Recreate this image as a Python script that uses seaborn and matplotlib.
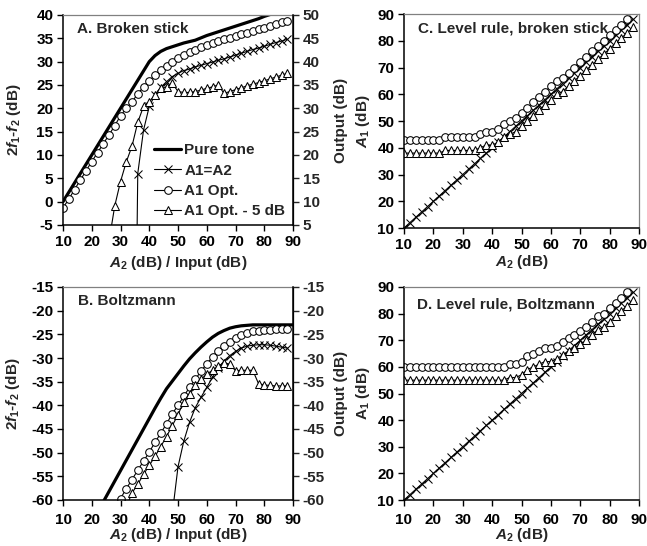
import numpy as np
import pandas as pd
import matplotlib
matplotlib.use("Agg")
import matplotlib.pyplot as plt
import seaborn as sns

# ---------------- data ----------------
# Panel A: broken-stick nonlinearity, 2f1-f2 level vs A2
a_pure_x = [10, 12, 14, 16, 18, 20, 22, 24, 26, 28, 30, 32, 34, 36, 38, 40, 42, 44, 46, 48,
            50, 52, 54, 56, 58, 60, 62, 64, 66, 68, 70, 72, 74, 76, 78, 80, 82, 84, 86, 88, 90]
a_pure_y = [0, 2, 4, 6, 8, 10, 12, 14, 16, 18, 20, 22, 24, 26, 28, 30, 31.3, 32.2, 32.8, 33.2,
            33.6, 34.0, 34.3, 34.6, 35.1, 35.6, 36.0, 36.4, 36.8, 37.2, 37.6, 38.0, 38.4, 38.8,
            39.2, 39.7, 40.1, 40.5, 40.9, 41.3, 41.7]

a_eq_x = [34, 36, 38, 40, 42, 44, 46, 48, 50, 52, 54, 56, 58, 60, 62, 64, 66, 68, 70, 72,
          74, 76, 78, 80, 82, 84, 86, 88]
a_eq_y = [-100, 6.0, 15.3, 20.4, 22.9, 24.5, 25.7, 26.8, 27.5, 28.1, 28.4, 28.9, 29.2, 29.6,
          29.9, 30.3, 30.6, 31.0, 31.4, 31.8, 32.2, 32.6, 32.9, 33.3, 33.7, 34.1, 34.4, 34.8]

a_opt_x = [10, 12, 14, 16, 18, 20, 22, 24, 26, 28, 30, 32, 34, 36, 38, 40, 42, 44, 46, 48,
           50, 52, 54, 56, 58, 60, 62, 64, 66, 68, 70, 72, 74, 76, 78, 80, 82, 84, 86, 88]
a_opt_y = [-1.3, 0.5, 2.6, 4.6, 6.6, 8.6, 10.5, 12.4, 14.3, 16.3, 18.4, 20.0, 21.4, 23.1,
           24.6, 25.9, 27.1, 28.2, 29.1, 30.0, 30.7, 31.4, 32.0, 32.6, 33.1, 33.6, 34.0, 34.4,
           34.8, 35.1, 35.5, 35.9, 36.2, 36.6, 37.0, 37.3, 37.7, 38.1, 38.4, 38.8]

a_m5_x = [26, 28, 30, 32, 34, 36, 38, 40, 42, 44, 46, 48, 50, 52, 54, 56, 58, 60, 62, 64,
          66, 68, 70, 72, 74, 76, 78, 80, 82, 84, 86, 88]
a_m5_y = [-8.5, -0.9, 4.3, 8.5, 11.9, 17.0, 20.4, 21.4, 22.9, 24.3, 24.6, 25.4, 23.6, 23.4,
          23.4, 23.6, 23.9, 24.3, 24.6, 25.0, 23.2, 23.6, 24.0, 24.4, 24.8, 25.2, 25.5, 25.9,
          26.3, 26.7, 27.1, 27.5]

# Panel B: Boltzmann nonlinearity
b_pure_x = [10, 12, 14, 16, 18, 20, 22, 24, 26, 28, 30, 32, 34, 36, 38, 40, 42, 44, 46, 48,
            50, 52, 54, 56, 58, 60, 62, 64, 66, 68, 70, 72, 74, 76, 78, 80, 82, 84, 86, 88, 90]
b_pure_y = [-76.5, -74.2, -71.9, -69.6, -67.3, -65.0, -62.7, -60.4, -58.2, -56.0, -53.8,
            -51.6, -49.4, -47.2, -45.0, -42.8, -40.6, -38.5, -36.5, -34.9, -33.3, -31.7,
            -30.2, -28.9, -27.7, -26.6, -25.6, -24.8, -24.2, -23.7, -23.4, -23.2, -23.1,
            -23.0, -23.0, -23.0, -23.0, -23.0, -23.0, -23.0, -23.0]

b_eq_x = [48, 50, 52, 54, 56, 58, 60, 62, 64, 66, 68, 70, 72, 74, 76, 78, 80, 82, 84, 86, 88]
b_eq_y = [-63.0, -53.0, -47.6, -43.6, -40.5, -38.3, -36.2, -34.1, -32.2, -30.6, -29.5, -28.6,
          -27.9, -27.5, -27.3, -27.2, -27.2, -27.3, -27.5, -27.7, -27.9]

b_opt_x = [28, 30, 32, 34, 36, 38, 40, 42, 44, 46, 48, 50, 52, 54, 56, 58, 60, 62, 64, 66,
           68, 70, 72, 74, 76, 78, 80, 82, 84, 86, 88]
b_opt_y = [-62.5, -59.7, -57.6, -55.7, -53.7, -51.8, -49.9, -47.8, -45.9, -43.9, -41.8, -40.0,
           -38.1, -36.2, -34.5, -32.8, -31.2, -29.8, -28.5, -27.5, -26.6, -25.8, -25.1, -24.7,
           -24.4, -24.2, -24.1, -24.0, -23.9, -23.9, -23.8]

b_m5_x = [32, 34, 36, 38, 40, 42, 44, 46, 48, 50, 52, 54, 56, 58, 60, 62, 64, 66, 68, 70,
          72, 74, 76, 78, 80, 82, 84, 86, 88]
b_m5_y = [-61.5, -58.5, -56.7, -54.6, -52.7, -50.8, -48.7, -46.6, -44.3, -42.0, -39.2, -37.5,
          -35.7, -34.5, -33.4, -32.6, -31.7, -31.0, -31.3, -32.7, -32.6, -32.6, -32.6, -35.4,
          -35.7, -35.8, -35.9, -35.9, -35.9]

# Panels C and D: A1 level chosen by each rule vs A2
cd_x = [10, 12, 14, 16, 18, 20, 22, 24, 26, 28, 30, 32, 34, 36, 38, 40, 42, 44, 46, 48,
        50, 52, 54, 56, 58, 60, 62, 64, 66, 68, 70, 72, 74, 76, 78, 80, 82, 84, 86, 88]
cd_eq_y = [10, 12, 14, 16, 18, 20, 22, 24, 26, 28, 30, 32, 34, 36, 38, 40, 42, 44, 46, 48,
           50, 52, 54, 56, 58, 60, 62, 64, 66, 68, 70, 72, 74, 76, 78, 80, 82, 84, 86, 88]

c_opt_x = [10, 12, 14, 16, 18, 20, 22, 24, 26, 28, 30, 32, 34, 36, 38, 40, 42, 44, 46, 48,
           50, 52, 54, 56, 58, 60, 62, 64, 66, 68, 70, 72, 74, 76, 78, 80, 82, 84, 86]
c_opt_y = [43, 43, 43, 43, 43, 43, 43, 44, 44, 44, 44, 44, 44, 45, 46, 46, 47, 49, 50, 51,
           53, 55, 57, 59, 61, 63, 65, 66, 68, 70, 72, 74, 76, 78, 80, 82, 84, 86, 88]
c_m5_y = [38, 38, 38, 38, 38, 38, 38, 39, 39, 39, 39, 39, 39, 40, 41, 41, 42, 44, 45, 46,
          48, 50, 52, 54, 56, 58, 60, 61, 63, 65, 67, 69, 71, 73, 75, 77, 79, 81, 83, 85]

d_opt_x = [10, 12, 14, 16, 18, 20, 22, 24, 26, 28, 30, 32, 34, 36, 38, 40, 42, 44, 46, 48,
           50, 52, 54, 56, 58, 60, 62, 64, 66, 68, 70, 72, 74, 76, 78, 80, 82, 84, 86]
d_opt_y = [60, 60, 60, 60, 60, 60, 60, 60, 60, 60, 60, 60, 60, 60, 60, 60, 60, 60, 61, 61,
           62, 64, 65, 66, 67, 67, 68, 69.5, 71, 72, 73.5, 75, 77, 79, 80, 82, 84, 86, 88]
d_m5_y = [55, 55, 55, 55, 55, 55, 55, 55, 55, 55, 55, 55, 55, 55, 55, 55, 55, 55, 56, 56,
          57, 59, 60, 61, 62, 62, 63, 64.5, 66, 67, 68.5, 70, 72, 74, 75, 77, 79, 81, 83, 85]

x_ticks = [10, 20, 30, 40, 50, 60, 70, 80, 90]
a_left_ticks = [-5, 0, 5, 10, 15, 20, 25, 30, 35, 40]
a_right_ticks = [5, 10, 15, 20, 25, 30, 35, 40, 45, 50]
b_ticks = [-60, -55, -50, -45, -40, -35, -30, -25, -20, -15]
cd_ticks = [10, 20, 30, 40, 50, 60, 70, 80, 90]

labels = ["Pure tone", "A1=A2", "A1 Opt.", "A1 Opt. - 5 dB"]

# ---------------- style ----------------
sns.set_style("ticks")
plt.rcParams["font.family"] = ["Liberation Sans", "DejaVu Sans"]
plt.rcParams["font.weight"] = "bold"
plt.rcParams["axes.labelweight"] = "bold"
plt.rcParams["axes.unicode_minus"] = False
plt.rcParams["mathtext.fontset"] = "custom"
plt.rcParams["mathtext.rm"] = "Liberation Sans:bold"
plt.rcParams["mathtext.it"] = "Liberation Sans:italic:bold"
plt.rcParams["mathtext.bf"] = "Liberation Sans:bold"

FS = 11

fig = plt.figure(figsize=(6.47, 5.46), dpi=100)
W, H = 647.0, 546.0


def box(l, t, r, b):
    return [l / W, 1 - b / H, (r - l) / W, (b - t) / H]


axA = fig.add_axes(box(63, 15, 293, 225))
axB = fig.add_axes(box(63, 287, 293, 500))
axC = fig.add_axes(box(404, 14, 639, 228))
axD = fig.add_axes(box(404, 287, 639, 500))


def series(ax, x, y, marker=None, lw=0.8, ms=5.5, label=None):
    kw = dict(x=x, y=y, ax=ax, color="black", linewidth=lw, legend=False)
    if label is not None:
        kw["label"] = label
    if marker is not None:
        kw.update(marker=marker, markersize=ms, markerfacecolor="white",
                  markeredgecolor="black", markeredgewidth=0.75)
    sns.lineplot(**kw)


def style_axes(ax, right_gray=True):
    ax.set_xlim(10, 90)
    ax.set_xticks(x_ticks)
    ax.tick_params(direction="out", length=4, width=1, labelsize=FS, pad=3, colors="black")
    for s in ("left", "bottom"):
        ax.spines[s].set_color("black")
        ax.spines[s].set_linewidth(1.1)
    ax.spines["top"].set_color("#808080")
    ax.spines["top"].set_linewidth(0.9)
    ax.spines["right"].set_visible(True)
    ax.spines["top"].set_visible(True)
    ax.spines["right"].set_color("#808080" if right_gray else "black")
    ax.spines["right"].set_linewidth(0.9)
    for t in ax.get_xticklabels() + ax.get_yticklabels():
        t.set_fontweight("bold")


def twin_right(ax, lo, hi, ticks):
    tw = ax.twinx()
    tw.set_ylim(lo, hi)
    tw.set_yticks(ticks)
    tw.tick_params(direction="out", length=4, width=1, labelsize=FS, pad=3)
    for s in ("left", "top", "bottom"):
        tw.spines[s].set_visible(False)
    tw.spines["right"].set_color("black")
    tw.spines["right"].set_linewidth(1.1)
    tw.set_ylabel("Output (dB)", fontsize=FS)
    tw.yaxis.set_label_coords(1.18, 0.5)
    for t in tw.get_yticklabels():
        t.set_fontweight("bold")
    return tw


# ---- Panel A ----
series(axA, a_pure_x, a_pure_y, lw=2.3, label=labels[0])
series(axA, a_eq_x, a_eq_y, marker="x", ms=6, label=labels[1])
series(axA, a_opt_x, a_opt_y, marker="o", ms=5.5, label=labels[2])
series(axA, a_m5_x, a_m5_y, marker="^", ms=6, label=labels[3])
axA.set_ylim(-5, 40)
axA.set_yticks(a_left_ticks)
style_axes(axA, right_gray=False)
axA.set_xlabel(r"$A_2$ (dB) / Input (dB)", fontsize=FS)
axA.set_ylabel(r"2$f_1$-$f_2$ (dB)", fontsize=FS)
axA.xaxis.set_label_coords(0.5, -0.14)
axA.yaxis.set_label_coords(-0.175, 0.5)
axA.text(0.06, 0.965, "A. Broken stick", transform=axA.transAxes, ha="left", va="top",
         fontsize=FS, fontweight="bold")
axA.legend(loc="upper left", bbox_to_anchor=(0.395, 0.39), frameon=False,
           borderpad=0, borderaxespad=0, handlelength=1.8, handletextpad=0.2,
           labelspacing=0.42, prop={"weight": "bold", "size": FS})
twin_right(axA, 5, 50, a_right_ticks)

# ---- Panel B ----
series(axB, b_pure_x, b_pure_y, lw=2.3)
series(axB, b_eq_x, b_eq_y, marker="x", ms=6)
series(axB, b_opt_x, b_opt_y, marker="o", ms=5.5)
series(axB, b_m5_x, b_m5_y, marker="^", ms=6)
axB.set_ylim(-60, -15)
axB.set_yticks(b_ticks)
style_axes(axB, right_gray=False)
axB.tick_params(axis="x", pad=5)
axB.set_xlabel(r"$A_2$ (dB) / Input (dB)", fontsize=FS)
axB.set_ylabel(r"2$f_1$-$f_2$ (dB)", fontsize=FS)
axB.xaxis.set_label_coords(0.5, -0.122)
axB.yaxis.set_label_coords(-0.178, 0.5)
axB.text(0.065, 0.965, "B. Boltzmann", transform=axB.transAxes, ha="left", va="top",
         fontsize=FS, fontweight="bold")
twin_right(axB, -60, -15, b_ticks)

# ---- Panel C ----
series(axC, cd_x, cd_eq_y, marker="x", ms=6)
series(axC, c_opt_x, c_opt_y, marker="o", ms=5.5)
series(axC, cd_x, c_m5_y, marker="^", ms=6)
axC.set_ylim(10, 90)
axC.set_yticks(cd_ticks)
style_axes(axC)
axC.set_xlabel(r"$A_2$ (dB)", fontsize=FS)
axC.set_ylabel(r"$A_1$ (dB)", fontsize=FS)
axC.xaxis.set_label_coords(0.5, -0.118)
axC.yaxis.set_label_coords(-0.136, 0.5)
axC.text(0.06, 0.965, "C. Level rule, broken stick", transform=axC.transAxes, ha="left",
         va="top", fontsize=FS, fontweight="bold")

# ---- Panel D ----
series(axD, cd_x, cd_eq_y, marker="x", ms=6)
series(axD, d_opt_x, d_opt_y, marker="o", ms=5.5)
series(axD, cd_x, d_m5_y, marker="^", ms=6)
axD.set_ylim(10, 90)
axD.set_yticks(cd_ticks)
style_axes(axD)
axD.tick_params(axis="x", pad=5)
axD.set_xlabel(r"$A_2$ (dB)", fontsize=FS)
axD.set_ylabel(r"A$_1$ (dB)", fontsize=FS)
axD.xaxis.set_label_coords(0.5, -0.122)
axD.yaxis.set_label_coords(-0.136, 0.5)
axD.text(0.055, 0.95, "D. Level rule, Boltzmann", transform=axD.transAxes, ha="left",
         va="top", fontsize=FS, fontweight="bold")

fig.savefig("out.png", dpi=100)
